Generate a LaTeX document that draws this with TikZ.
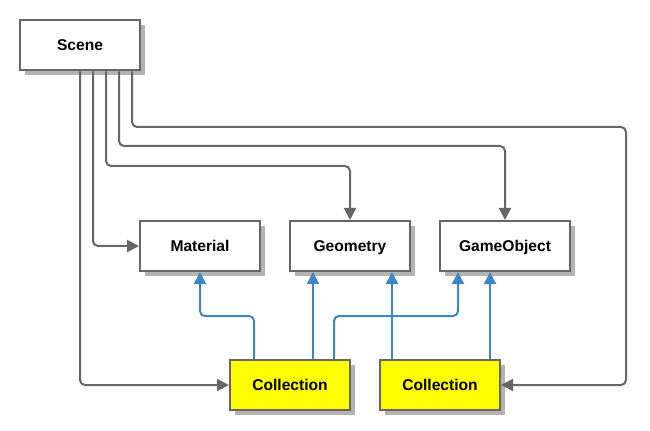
\documentclass[tikz,border=0pt]{standalone}
\usepackage{fontspec}
\setmainfont{Liberation Sans}
\usetikzlibrary{arrows.meta,shadows}
\definecolor{boxgray}{HTML}{666666}
\definecolor{shadegray}{HTML}{B3B3B3}
\definecolor{linkblue}{HTML}{3D85C6}
\definecolor{collyellow}{HTML}{FFFF00}
\begin{document}
\begin{tikzpicture}[x=0.75pt,y=-0.75pt,
    box/.style={draw=boxgray,line width=1.5pt,fill=white,minimum width=90pt,minimum height=37.5pt,
      text height=9.5pt,text depth=1.3pt,font=\fontsize{11.7}{14}\selectfont\bfseries,
      drop shadow={shadow xshift=3.75pt,shadow yshift=-3.75pt,fill=shadegray,opacity=1}},
    coll/.style={box,fill=collyellow},
    gline/.style={draw=boxgray,line width=1.5pt,rounded corners=3.75pt,-{Triangle[length=9pt,width=9pt]}},
    bline/.style={draw=linkblue,line width=1.5pt,rounded corners=3.75pt,-{Triangle[length=9pt,width=9pt]}}]
  \useasboundingbox (0,0) rectangle (650,431);
  % boxes
  \node[box] (scene) at (80,45.5) {Scene};
  \node[box] (mat) at (200,246) {Material};
  \node[box] (geo) at (350,246) {Geometry};
  \node[box,minimum width=97.5pt] (gobj) at (505,246) {GameObject};
  \node[coll] (coll1) at (290,385) {Collection};
  \node[coll] (coll2) at (440,385) {Collection};
  % scene links
  \draw[gline] (80,0 |- scene.south) |- (coll1.west);
  \draw[gline] (93,0 |- scene.south) |- (mat.west);
  \draw[gline] (106,0 |- scene.south) |- (350,166) -- (geo.north);
  \draw[gline] (119,0 |- scene.south) |- (505,146) -- (gobj.north);
  \draw[gline] (132,0 |- scene.south) |- (626,127) |- (coll2.east);
  % collection links
  \draw[bline] (254,0 |- coll1.north) |- (200,316) -- (mat.south);
  \draw[bline] (313,0 |- coll1.north) -- (313,0 |- geo.south);
  \draw[bline] (334,0 |- coll1.north) |- (458,316) -- (458,0 |- gobj.south);
  \draw[bline] (392,0 |- coll2.north) -- (392,0 |- geo.south);
  \draw[bline] (490,0 |- coll2.north) -- (490,0 |- gobj.south);
\end{tikzpicture}
\end{document}
